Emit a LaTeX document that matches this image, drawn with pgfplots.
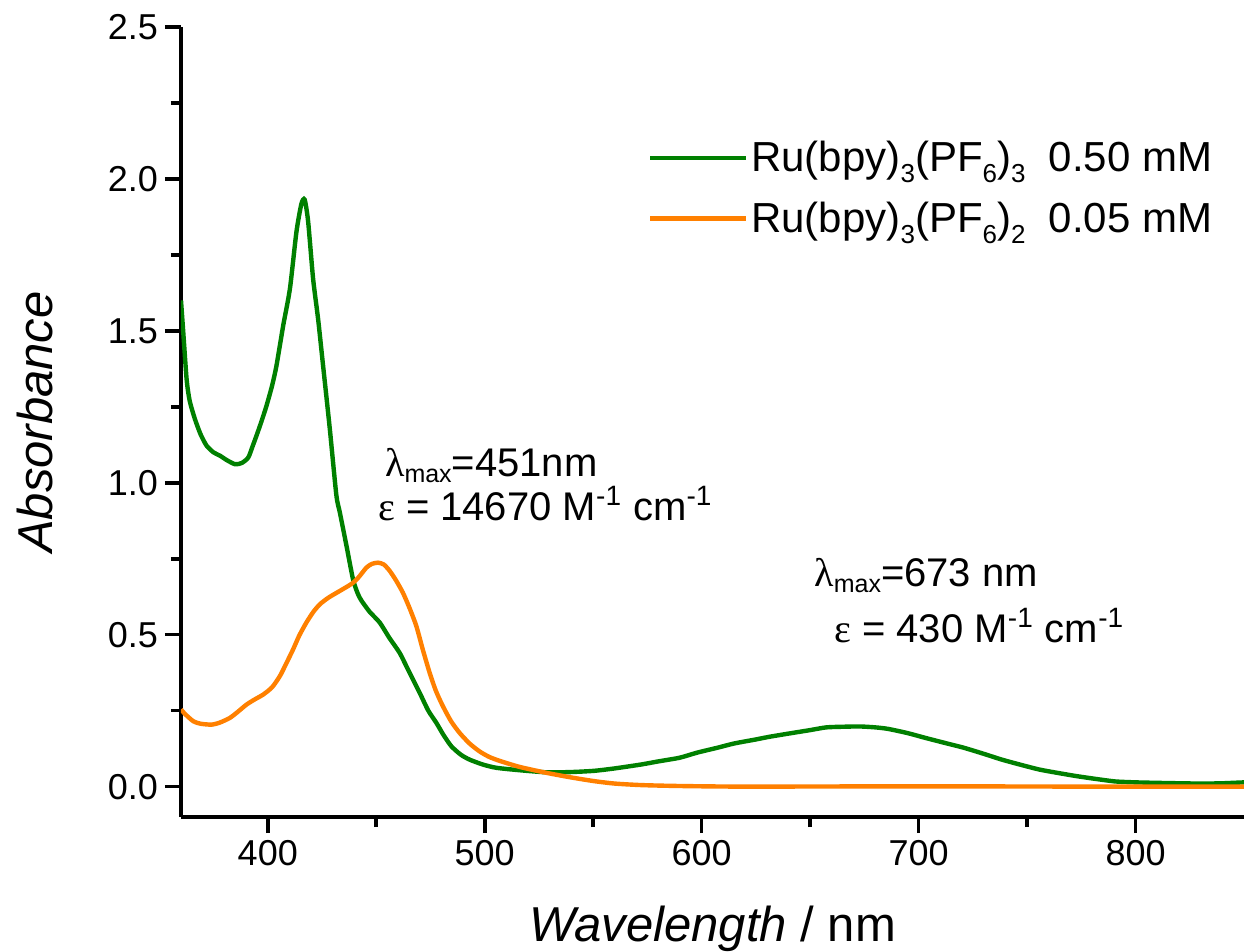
\documentclass[border=0pt]{standalone}
\usepackage{fontspec}
\setmainfont{Liberation Sans}
\newfontfamily\greekfont{Liberation Serif}
\usepackage{pgfplots}
\pgfplotsset{compat=1.18}
\definecolor{rugreen}{RGB}{0,128,0}
\definecolor{ruorange}{RGB}{255,128,0}
\newcommand{\sub}[1]{\raisebox{-5.5pt}{\fontsize{13}{14}\selectfont #1}}
\newcommand{\lsub}[1]{\raisebox{-3pt}{\fontsize{12.5}{14}\selectfont #1}}

\begin{document}
\begin{tikzpicture}
\begin{axis}[
    scale only axis, width=531.5pt, height=395pt,
    xmin=360, xmax=850, ymin=-0.1, ymax=2.5,
    axis lines=left, axis line style={-, line width=1.8pt},
    xtick={400,500,...,800}, ytick={0,0.5,...,2.5},
    minor x tick num=1, minor y tick num=1,
    tick align=outside, tick pos=left,
    major tick length=8pt, minor tick length=5pt,
    tick style={black, line width=1.8pt},
    ticklabel style={font=\fontsize{18}{21}\selectfont},
    /pgf/number format/assume math mode=true,
    y tick label style={/pgf/number format/.cd, fixed, fixed zerofill, precision=1, /tikz/.cd},
    x tick label style={/pgf/number format/1000 sep={}},
    xlabel={\textit{Wavelength} / nm},
    ylabel={\textit{Absorbance}},
    label style={font=\fontsize{24.5}{29}\selectfont},
    xlabel style={at={(axis description cs:0.5,-0.158)}, anchor=base},
    ylabel style={at={(axis description cs:-0.137,0.5)}, anchor=center},
    legend cell align=left,
    legend image code/.code={\draw[#1] (0pt,0pt) -- (48pt,0pt);},
    legend style={draw=none, fill=none, at={(axis cs:575,2.135)}, anchor=north west,
        font=\fontsize{21}{24}\selectfont, inner sep=0pt,
        row sep=10.5pt, column sep=0pt, nodes={inner sep=1.5pt}},
]
% Ru(III), 0.50 mM
\addplot[rugreen, line width=2.2pt, smooth, tension=0.4] coordinates {
(360,1.60) (361,1.50) (362.6,1.34) (364,1.27) (366.4,1.21) (369,1.16)
(371.8,1.122) (375,1.10) (378,1.089) (381,1.075) (384.9,1.061) (388,1.065)
(391,1.083) (393,1.12) (394.8,1.155) (397,1.20) (399.4,1.253) (402,1.32)
(404,1.385) (407.1,1.517) (410.2,1.638) (413.2,1.825) (415.5,1.918) (417,1.932)
(418.6,1.86) (420.9,1.671) (423.2,1.539) (425.5,1.385) (428.6,1.177) (431.6,0.96)
(433.2,0.903) (436.3,0.792) (439.3,0.682) (441.5,0.635) (443.2,0.612) (447,0.575)
(451.6,0.54) (456,0.49) (460.8,0.44) (465,0.38) (470,0.309) (474,0.25)
(477.7,0.21) (481,0.17) (484.6,0.133) (489,0.105) (493,0.089) (499,0.073)
(505.3,0.062) (516,0.054) (528.7,0.047) (540,0.048) (550.5,0.052) (560,0.06)
(572.3,0.073) (580,0.083) (589.8,0.095) (598,0.112) (607.3,0.128) (615,0.142)
(624.8,0.155) (632,0.165) (642.2,0.177) (650,0.186) (657.5,0.195) (665,0.197)
(672.8,0.198) (680,0.195) (685.9,0.19) (695,0.176) (703.3,0.16) (712,0.144)
(720.8,0.128) (730,0.108) (738.3,0.089) (747,0.072) (755.8,0.056) (765,0.044)
(773.3,0.034) (782,0.025) (790.7,0.017) (800,0.014) (812.5,0.012) (830,0.010)
(840,0.011) (850,0.014)
};
\addlegendentry{Ru(bpy)\sub{3}(PF\sub{6})\sub{3}\ \ 0.50 mM}
% Ru(II), 0.05 mM
\addplot[ruorange, line width=2.2pt, smooth, tension=0.4] coordinates {
(360,0.254) (362,0.238) (365.7,0.215) (369,0.207) (374.1,0.204) (378,0.211)
(382.5,0.226) (386,0.245) (390.2,0.27) (394,0.287) (397.9,0.303) (402,0.327)
(405.6,0.364) (408.5,0.405) (411.7,0.452) (414.5,0.497) (417.8,0.54) (421,0.575)
(424,0.60) (428,0.622) (433.2,0.644) (437,0.66) (439.3,0.671) (442,0.69)
(445.5,0.721) (448,0.733) (450.8,0.737) (453.5,0.731) (456.2,0.71) (459,0.68)
(462.3,0.638) (465.5,0.585) (468.5,0.528) (471.5,0.45) (474.6,0.375) (477.5,0.315)
(480.7,0.265) (484.5,0.215) (488.4,0.177) (493,0.142) (497.6,0.116) (502,0.098)
(506.8,0.085) (516,0.065) (528.7,0.045) (540,0.03) (550.5,0.018) (560,0.01)
(572.3,0.005) (590,0.002) (620,0.0) (700,0.001) (780,0.0) (850,0.0)
};
\addlegendentry{Ru(bpy)\sub{3}(PF\sub{6})\sub{2}\ \ 0.05 mM}

\node[anchor=base west, inner sep=0pt, font=\fontsize{20}{24}\selectfont]
  at (axis cs:453.9,1.022) {{\greekfont λ}\lsub{max}=451nm};
\node[anchor=base west, inner sep=0pt, font=\fontsize{20}{24}\selectfont]
  at (axis cs:450.7,0.875) {{\greekfont ε} = 14670 M\textsuperscript{-1} cm\textsuperscript{-1}};
\node[anchor=base west, inner sep=0pt, font=\fontsize{20}{24}\selectfont]
  at (axis cs:651.8,0.659) {{\greekfont λ}\lsub{max}=673 nm};
\node[anchor=base west, inner sep=0pt, font=\fontsize{20}{24}\selectfont]
  at (axis cs:661,0.475) {{\greekfont ε} = 430 M\textsuperscript{-1} cm\textsuperscript{-1}};
\end{axis}
\pgfresetboundingbox
\path[use as bounding box] ([xshift=-90.5pt,yshift=-67pt]current axis.south west)
  rectangle ([yshift=13.5pt]current axis.north east);
\end{tikzpicture}
\end{document}
